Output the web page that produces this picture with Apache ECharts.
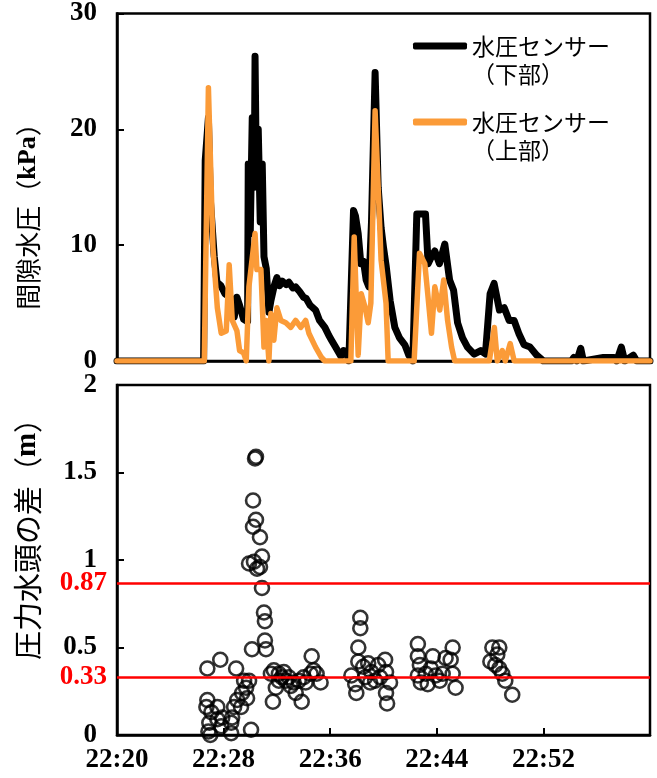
<!DOCTYPE html>
<html>
<head>
<meta charset="utf-8">
<script src="https://cdn.jsdelivr.net/npm/echarts@6/dist/echarts.min.js"></script>
<style>
  html, body { margin: 0; padding: 0; background: #fff; }
  #chart { width: 657px; height: 778px; }
</style>
</head>
<body>
<div id="chart"></div>
<script>
// 経過時間（分, 22:20 起点）と値
var timeTicks = ['22:20', '22:28', '22:36', '22:44', '22:52']

// 水圧センサー（下部） [分, kPa]
var lowerPressure = [
    [0, 0], [6.5, 0], [6.62, 17.3], [6.86, 21], [7.0, 14], [7.3, 9], [7.5, 6.8], [7.8, 6.5], [8.1, 5.8],
    [8.5, 5.5], [8.8, 3.8], [9.0, 5.5], [9.2, 4.8], [9.5, 3.6], [9.8, 3.4], [9.85, 17], [10.0, 11],
    [10.15, 21], [10.3, 15], [10.36, 26.3], [10.45, 17], [10.6, 20], [10.75, 12], [10.9, 17], [11.03, 9],
    [11.2, 8], [11.4, 4.2], [11.55, 5.2], [11.8, 6.5], [12.0, 7.2], [12.2, 6.5], [12.4, 6.9], [12.7, 6.6],
    [12.9, 6.8], [13.2, 6.3], [13.4, 6.4], [13.7, 6.0], [14.0, 5.5], [14.2, 5.4], [14.5, 4.8], [14.9, 4.4],
    [15.2, 3.5], [15.6, 2.9], [15.9, 2.2], [16.1, 1.8], [16.4, 1.2], [16.8, 0.4], [17.0, 0.9], [17.2, 0.8],
    [17.4, 0], [17.55, 0], [17.75, 13.0], [17.9, 12.5], [18.1, 11], [18.3, 8.4], [18.5, 8.6], [18.7, 7.0],
    [18.9, 6.4], [19.1, 12], [19.37, 24.9], [19.6, 15], [19.82, 11.5], [20.0, 9.8], [20.2, 8.2], [20.5, 5.2],
    [20.85, 2.9], [21.2, 2.0], [21.6, 1.4], [21.9, 0.5], [22.2, 0], [22.35, 0], [22.5, 12.7], [23.15, 12.7],
    [23.35, 8.4], [23.6, 9.0], [23.85, 9.5], [24.2, 8.4], [24.6, 10.1], [24.96, 7.0], [25.26, 6.1],
    [25.56, 3.3], [25.93, 2.0], [26.3, 1.2], [26.8, 0.6], [27.3, 0.9], [27.65, 0.6], [28.0, 5.8],
    [28.3, 6.7], [28.7, 4.4], [29.06, 4.6], [29.43, 3.5], [29.8, 3.5], [30.18, 2.3], [30.55, 1.4],
    [31.0, 1.2], [31.5, 0.5], [32.0, 0], [34.1, 0], [34.28, 0.3], [34.5, 0], [34.8, 1.1], [35.0, 0],
    [36.5, 0.3], [37.3, 0.3], [37.5, 0], [37.85, 1.2], [38.1, 0], [38.75, 0.5], [39.0, 0], [40, 0]
]

// 水圧センサー（上部） [分, kPa]
var upperPressure = [
    [0, 0], [6.55, 0], [6.86, 23.6], [7.2, 9.8], [7.53, 4.6], [7.82, 2.4], [8.2, 2.6], [8.42, 8.3],
    [8.65, 3.5], [9.0, 2.6], [9.2, 0.9], [9.5, 0.7], [9.7, 0], [9.9, 6.4], [10.36, 11], [10.5, 7.9],
    [10.8, 7.9], [11.03, 1.2], [11.2, 3.5], [11.4, 0], [11.55, 4.1], [11.77, 1.8], [12.0, 4.6],
    [12.3, 3.5], [12.67, 3.3], [13.04, 2.9], [13.41, 3.5], [13.79, 2.9], [14.16, 3.5], [14.4, 2.4],
    [14.9, 1.2], [15.35, 0.3], [15.6, 0], [17.55, 0], [17.8, 10.7], [18.1, 0.5], [18.33, 5.8],
    [18.6, 4.7], [18.85, 3.3], [19.05, 5], [19.37, 21.6], [19.82, 8.7], [20.19, 5.0], [20.35, 0],
    [22.3, 0], [22.7, 9.3], [23.1, 8.4], [23.32, 5.8], [23.6, 2.4], [23.85, 6.4], [24.22, 4.4],
    [24.52, 7.0], [24.81, 3.5], [25.11, 1.2], [25.34, 0], [27.94, 0], [28.32, 2.9], [28.54, 0],
    [28.91, 0.9], [29.14, 0], [29.51, 1.5], [29.81, 0], [40, 0]
]

// 圧力水頭の差 [分, m]
var headDiff = [
    [6.78, 0.38], [7.75, 0.43], [6.78, 0.20], [6.71, 0.16], [7.08, 0.13], [7.53, 0.16], [6.93, 0.07],
    [6.86, 0.02], [7.00, 0.0], [7.53, 0.09], [7.90, 0.10], [7.82, 0.05], [8.57, 0.01], [8.57, 0.07],
    [8.79, 0.16], [8.64, 0.10], [9.02, 0.20], [9.31, 0.16], [8.94, 0.38], [9.39, 0.24], [9.69, 0.27],
    [9.76, 0.21], [9.54, 0.31], [9.91, 0.31], [10.06, 0.03], [10.13, 0.49], [11.18, 0.49], [11.10, 0.54],
    [11.10, 0.65], [11.03, 0.70], [10.88, 0.84], [10.73, 0.96], [10.51, 0.95], [10.88, 1.02], [9.91, 0.98],
    [10.28, 0.99], [10.73, 1.13], [10.21, 1.19], [10.43, 1.23], [10.21, 1.34], [10.36, 1.58], [10.43, 1.59],
    [11.70, 0.19], [11.77, 0.37], [12.15, 0.35], [12.37, 0.33], [12.67, 0.31], [12.89, 0.33], [13.26, 0.30],
    [13.41, 0.24], [13.86, 0.19], [13.64, 0.31], [14.16, 0.30], [14.61, 0.45], [14.75, 0.37], [14.98, 0.35],
    [15.28, 0.30], [14.53, 0.35], [12.15, 0.31], [11.92, 0.27], [11.55, 0.35], [12.52, 0.36], [13.04, 0.28],
    [14.01, 0.33],
    [18.26, 0.67], [18.26, 0.61], [18.11, 0.50], [18.11, 0.42], [17.59, 0.34], [17.88, 0.29], [17.96, 0.24],
    [18.48, 0.39], [18.85, 0.41], [19.08, 0.36], [19.37, 0.31], [19.60, 0.40], [20.12, 0.43], [20.19, 0.36],
    [20.49, 0.30], [20.19, 0.24], [20.27, 0.18], [19.75, 0.33], [18.63, 0.33], [19.00, 0.30],
    [22.58, 0.52], [22.58, 0.45], [22.73, 0.40], [22.58, 0.34], [22.80, 0.30], [23.32, 0.29], [23.70, 0.45],
    [23.55, 0.38], [23.92, 0.34], [24.22, 0.31], [24.44, 0.35], [24.66, 0.44], [25.19, 0.50], [25.04, 0.43],
    [25.19, 0.35], [25.41, 0.27], [23.17, 0.35],
    [28.17, 0.50], [28.69, 0.50], [28.02, 0.42], [28.39, 0.40], [28.69, 0.38], [28.91, 0.35], [29.14, 0.31],
    [29.66, 0.23], [28.54, 0.46]
]

var thresholds = [0.87, 0.33]

var serif = '"Liberation Serif", "Times New Roman", serif'
var jp = '"Noto Sans CJK JP", sans-serif'

var chart = echarts.init(document.getElementById('chart'))

function xAxisOf(gridIndex, showLabel) {
    return {
        type: 'value',
        gridIndex: gridIndex,
        min: 0,
        max: 40,
        interval: 8,
        axisLine: { show: true, lineStyle: { color: '#000', width: 2.5 } },
        axisTick: { show: showLabel, inside: true, length: 7, lineStyle: { color: '#000', width: 2 } },
        axisLabel: {
            show: showLabel,
            margin: 12,
            color: '#000',
            fontFamily: serif,
            fontWeight: 'bold',
            fontSize: 27,
            formatter: function(value) {
                return timeTicks[value / 8] || ''
            }
        },
        splitLine: { show: false }
    }
}

function yAxisOf(gridIndex, max, interval) {
    return {
        type: 'value',
        gridIndex: gridIndex,
        min: 0,
        max: max,
        interval: interval,
        axisLine: { show: true, lineStyle: { color: '#000', width: 2.5 } },
        axisTick: { show: true, inside: true, length: 7, lineStyle: { color: '#000', width: 2 } },
        axisLabel: { margin: 20, color: '#000', fontFamily: serif, fontWeight: 'bold', fontSize: 27 },
        splitLine: { show: false }
    }
}

// 凡例: 1行目をアイコンの高さに揃えるため空行を先頭に置く
function legendOf(name, top) {
    return {
        data: [name],
        left: 413,
        top: top,
        padding: 0,
        icon: 'roundRect',
        itemWidth: 54,
        itemHeight: 7,
        formatter: function(n) {
            var parts = n.split('（')
            return '{e| }\n{t|' + parts[0] + '}\n{t|（' + parts[1] + '}'
        },
        textStyle: {
            fontFamily: jp,
            fontSize: 23,
            color: '#000',
            rich: {
                e: { fontSize: 10, lineHeight: 28 },
                t: { fontFamily: jp, fontSize: 23, lineHeight: 28, color: '#000' }
            }
        }
    }
}

chart.setOption({
    animation: false,
    grid: [
        { left: 117, top: 12, width: 533, height: 349, show: true, borderColor: '#000', borderWidth: 2.5 },
        { left: 117, top: 385, width: 533, height: 350, show: true, borderColor: '#000', borderWidth: 2.5 }
    ],
    xAxis: [xAxisOf(0, false), xAxisOf(1, true)],
    yAxis: [yAxisOf(0, 30, 10), yAxisOf(1, 2, 0.5)],
    legend: [legendOf('水圧センサー（下部）', 13), legendOf('水圧センサー（上部）', 89)],
    graphic: [
        {
            type: 'text',
            x: 28,
            y: 210,
            rotation: Math.PI / 2,
            style: {
                text: '{j|間隙水圧（}{s|kPa}{j|）}',
                align: 'center',
                verticalAlign: 'middle',
                rich: {
                    j: { fontFamily: jp, fontSize: 26, fill: '#000' },
                    s: { fontFamily: serif, fontWeight: 'bold', fontSize: 26, fill: '#000' }
                }
            }
        },
        {
            type: 'text',
            x: 28,
            y: 532,
            rotation: Math.PI / 2,
            style: {
                text: '{j|圧力水頭の差（}{s|m}{j|）}',
                align: 'center',
                verticalAlign: 'middle',
                rich: {
                    j: { fontFamily: jp, fontSize: 29, fill: '#000' },
                    s: { fontFamily: serif, fontWeight: 'bold', fontSize: 29, fill: '#000' }
                }
            }
        }
    ],
    series: [
        {
            name: '水圧センサー（下部）',
            type: 'line',
            xAxisIndex: 0,
            yAxisIndex: 0,
            data: lowerPressure,
            symbol: 'none',
            color: '#000',
            lineStyle: { color: '#000', width: 7, join: 'round', cap: 'round' }
        },
        {
            name: '水圧センサー（上部）',
            type: 'line',
            xAxisIndex: 0,
            yAxisIndex: 0,
            data: upperPressure,
            symbol: 'none',
            color: '#fb9b38',
            lineStyle: { color: '#fb9b38', width: 5.5, join: 'round', cap: 'round' }
        },
        {
            name: '圧力水頭の差',
            type: 'scatter',
            xAxisIndex: 1,
            yAxisIndex: 1,
            data: headDiff,
            symbol: 'circle',
            symbolSize: 14,
            itemStyle: { color: 'rgba(255,255,255,0)', borderColor: '#000', borderWidth: 2.6 },
            markLine: {
                silent: true,
                symbol: 'none',
                lineStyle: { color: '#ff0000', width: 2.5, type: 'solid' },
                label: {
                    position: 'start',
                    distance: 10,
                    color: '#ff0000',
                    fontFamily: serif,
                    fontWeight: 'bold',
                    fontSize: 27,
                    formatter: function(p) {
                        return p.value.toFixed(2)
                    }
                },
                data: thresholds.map(function(v) {
                    return { yAxis: v }
                })
            }
        }
    ]
})
</script>
</body>
</html>
